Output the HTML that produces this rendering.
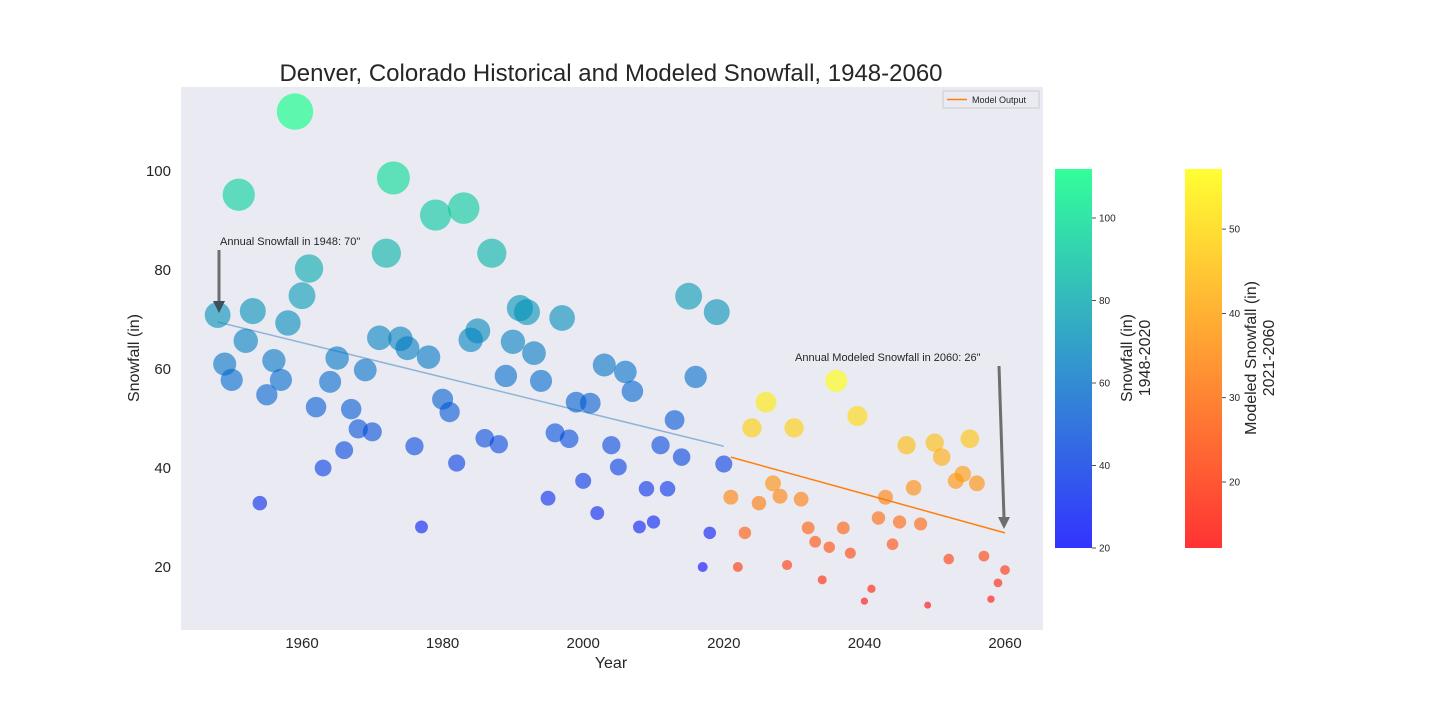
<!DOCTYPE html>
<html><head><meta charset="utf-8">
<style>
html,body{margin:0;padding:0;background:#fff;}
svg{display:block;font-family:"Liberation Sans",Arial,sans-serif;}
</style></head>
<body>
<svg id="chart" width="1440" height="720" viewBox="0 0 1440 720" xmlns="http://www.w3.org/2000/svg">
<defs>
<linearGradient id="gWinter" x1="0" y1="1" x2="0" y2="0">
<stop offset="0" stop-color="#0000ff"/><stop offset="1" stop-color="#00ff80"/>
</linearGradient>
<linearGradient id="gAutumn" x1="0" y1="1" x2="0" y2="0">
<stop offset="0" stop-color="#ff0000"/><stop offset="1" stop-color="#ffff00"/>
</linearGradient>
</defs>
<rect x="181" y="87" width="862" height="543" fill="#eaeaf2"/>
<text x="611" y="81" font-size="24" text-anchor="middle" fill="#262626">Denver, Colorado Historical and Modeled Snowfall, 1948-2060</text>
<g id="trend"></g>
<g id="pts"></g>
<g id="axes"></g>
<text x="611" y="668" font-size="16" text-anchor="middle" fill="#262626">Year</text>
<text transform="translate(139,358) rotate(-90)" font-size="16" text-anchor="middle" fill="#262626">Snowfall (in)</text>
<g>
<text x="220" y="245" font-size="11" fill="#262626">Annual Snowfall in 1948: 70"</text>
<line x1="219" y1="250" x2="219" y2="302" stroke="#6e6e6e" stroke-width="3"/>
<polygon points="213,301 225,301 219,313" fill="#3c505a"/>
</g>
<g>
<text x="795" y="361" font-size="11" fill="#262626">Annual Modeled Snowfall in 2060: 26"</text>
<line x1="999" y1="366" x2="1004" y2="518" stroke="#6e6e6e" stroke-width="3"/>
<polygon points="998,517 1010,517 1004,529" fill="#6e6e6e"/>
</g>
<g>
<rect x="943" y="91" width="96" height="17" fill="#eaeaf2" stroke="#cccccc" stroke-width="1"/>
<line x1="947" y1="99.5" x2="967" y2="99.5" stroke="#ff7f0e" stroke-width="1.5"/>
<text x="972" y="103" font-size="9" fill="#262626">Model Output</text>
</g>
<g>
<rect x="1055" y="169" width="37" height="379" fill="url(#gWinter)" opacity="0.8"/>
<g id="cb1"></g>
<text transform="translate(1132,358) rotate(-90)" font-size="16" text-anchor="middle" fill="#262626">Snowfall (in)</text>
<text transform="translate(1150,358) rotate(-90)" font-size="16" text-anchor="middle" fill="#262626">1948-2020</text>
</g>
<g>
<rect x="1185" y="169" width="37" height="379" fill="url(#gAutumn)" opacity="0.8"/>
<g id="cb2"></g>
<text transform="translate(1256,358) rotate(-90)" font-size="16" text-anchor="middle" fill="#262626">Modeled Snowfall (in)</text>
<text transform="translate(1274,358) rotate(-90)" font-size="16" text-anchor="middle" fill="#262626">2021-2060</text>
</g>
</svg>
<script>
const histYears = [1948,1949,1950,1951,1952,1953,1954,1955,1956,1957,1958,1959,1960,1961,1962,1963,1964,1965,1966,1967,1968,1969,1970,1971,1972,1973,1974,1975,1976,1977,1978,1979,1980,1981,1982,1983,1984,1985,1986,1987,1988,1989,1990,1991,1992,1993,1994,1995,1996,1997,1998,1999,2000,2001,2002,2003,2004,2005,2006,2007,2008,2009,2010,2011,2012,2013,2014,2015,2016,2017,2018,2019,2020];
const histSnow = [70.9,61,57.8,95.2,65.7,71.7,32.9,54.8,61.7,57.8,69.3,112,74.8,80.3,52.3,40.0,57.4,62.2,43.6,51.9,47.9,59.8,47.3,66.3,83.4,98.6,66.1,64.2,44.4,28.1,62.4,91.1,53.9,51.3,41,92.5,65.9,67.7,46,83.4,44.8,58.6,65.5,72.3,71.5,63.2,57.6,33.9,47.1,70.3,45.9,53.3,37.4,53.1,30.9,60.8,44.6,40.2,59.4,55.5,28.1,35.8,29.1,44.6,35.8,49.7,42.2,74.7,58.4,20,26.9,71.5,40.8];
const modelYears = [2021,2022,2023,2024,2025,2026,2027,2028,2029,2030,2031,2032,2033,2034,2035,2036,2037,2038,2039,2040,2041,2042,2043,2044,2045,2046,2047,2048,2049,2050,2051,2052,2053,2054,2055,2056,2057,2058,2059,2060];
const modelSnow = [34.1,20,26.9,48.1,32.9,53.3,36.9,34.3,20.4,48.1,33.7,27.9,25.1,17.4,24.0,57.6,27.9,22.8,50.5,13.1,15.6,29.9,34.1,24.6,29.1,44.6,36,28.7,12.3,45.1,42.2,21.6,37.4,38.8,45.9,36.9,22.2,13.5,16.8,19.4];
const histTrendYears = [1948,2020];
const histTrendVals = [69.5,44.4];
const modelTrendYears = [2021,2060];
const modelTrendVals = [42.2,26.9];
const xTicks = [1960,1980,2000,2020,2040,2060];
const yTicks = [20,40,60,80,100];
const cb1Ticks = [20,40,60,80,100];
const cb2Ticks = [20,30,40,50];

const NS="http://www.w3.org/2000/svg";
const X = y => 302 + (y-1960)*7.03;
const Y = v => 171 + (100-v)*4.95;
const R = v => 5*Math.pow(v/20,0.75);
function mk(tag,attrs,parent){const e=document.createElementNS(NS,tag);for(const k in attrs)e.setAttribute(k,attrs[k]);parent.appendChild(e);return e;}
function lerp(a,b,t){return a.map((c,i)=>Math.round(c+(b[i]-c)*t));}
const winter = t => {const c=lerp([0,0,255],[0,255,128],Math.max(0,Math.min(1,t)));return `rgb(${c})`;};
const autumn = t => {const c=lerp([255,0,0],[255,255,0],Math.max(0,Math.min(1,t)));return `rgb(${c})`;};

const trend=document.getElementById('trend');
const l1=mk('line',{x1:X(histTrendYears[0]),y1:Y(histTrendVals[0]),x2:X(histTrendYears[1]),y2:Y(histTrendVals[1]),stroke:'#8fb4d6','stroke-width':1.5},trend);


const l2=mk('line',{x1:X(modelTrendYears[0]),y1:Y(modelTrendVals[0]),x2:X(modelTrendYears[1]),y2:Y(modelTrendVals[1]),stroke:'#ff7f0e','stroke-width':1.5},trend);



const pts=document.getElementById('pts');
histYears.forEach((yr,i)=>{const v=histSnow[i];
 const c=mk('circle',{cx:X(yr),cy:Y(v),r:R(v),fill:winter((v-20)/(111.6-20)),'fill-opacity':0.6},pts);
 
 });
modelYears.forEach((yr,i)=>{const v=modelSnow[i];
 const c=mk('circle',{cx:X(yr),cy:Y(v),r:R(v),fill:autumn((v-12.3)/(57.1-12.3)),'fill-opacity':0.6},pts);
 
 });

const axes=document.getElementById('axes');
xTicks.forEach(t=>{const e=mk('text',{x:X(t),y:648,'font-size':15,'text-anchor':'middle',fill:'#262626'},axes);e.textContent=t;
 
 });
yTicks.forEach(t=>{const e=mk('text',{x:171,y:Y(t)+5,'font-size':15,'text-anchor':'end',fill:'#262626'},axes);e.textContent=t;
 
 });

const cb1=document.getElementById('cb1');
cb1Ticks.forEach(t=>{const yy=548-(t-20)*4.125;
 mk('line',{x1:1092,y1:yy,x2:1096,y2:yy,stroke:'#262626','stroke-width':0.8},cb1);
 const e=mk('text',{x:1099,y:yy+3.5,'font-size':10,fill:'#262626'},cb1);e.textContent=t;
 
 });
const cb2=document.getElementById('cb2');
cb2Ticks.forEach(t=>{const yy=482-(t-20)*8.43;
 mk('line',{x1:1222,y1:yy,x2:1226,y2:yy,stroke:'#262626','stroke-width':0.8},cb2);
 const e=mk('text',{x:1229,y:yy+3.5,'font-size':10,fill:'#262626'},cb2);e.textContent=t;
 
 });
</script>
</body></html>
